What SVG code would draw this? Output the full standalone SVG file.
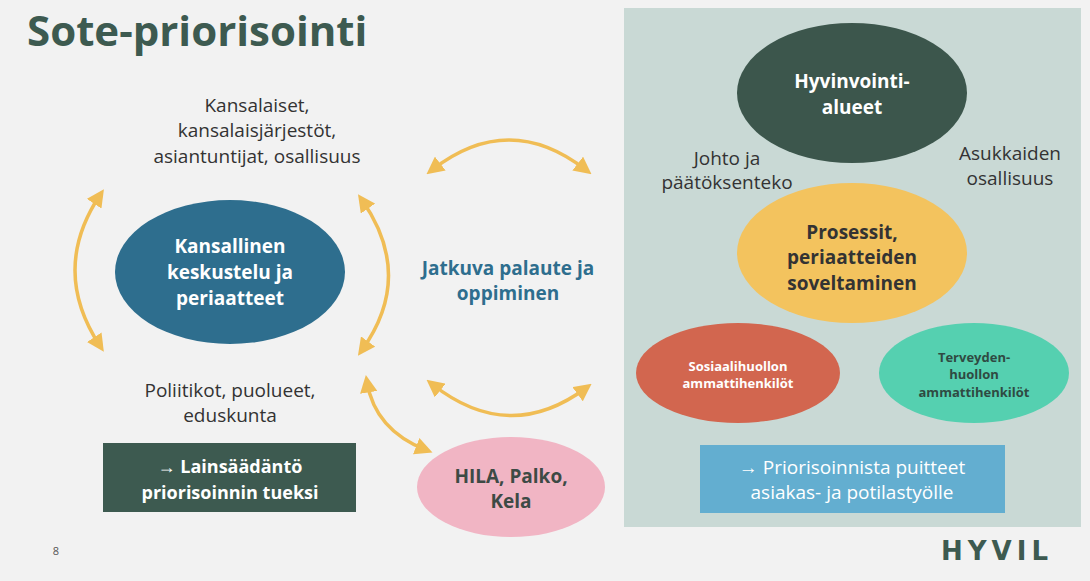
<svg xmlns="http://www.w3.org/2000/svg" width="1090" height="581" viewBox="0 0 1090 581">
<defs>
<marker id="ah" viewBox="0 0 10 10" refX="6" refY="5" markerWidth="5" markerHeight="5" orient="auto-start-reverse"><path d="M0,0 L10,5 L0,10 z" fill="#f0bd55"/></marker>
<style>
text{font-family:"Open Sans","Liberation Sans",sans-serif;text-anchor:middle}
.t{font-size:19px;fill:#333}
.b{font-weight:bold}
.arc{fill:none;stroke:#f0bd55;stroke-width:3.5;marker-start:url(#ah);marker-end:url(#ah)}
</style>
</defs>
<rect width="1090" height="581" fill="#f2f2f2"/>
<rect x="624" y="8" width="457" height="519" fill="#c9d9d5"/>
<text x="27" y="46" style="text-anchor:start;font-size:42px;font-weight:bold;fill:#3d5a50">Sote-priorisointi</text>
<text class="t" x="257" y="112">Kansalaiset,</text>
<text class="t" x="257" y="137">kansalaisjärjestöt,</text>
<text class="t" x="257" y="163">asiantuntijat, osallisuus</text>
<g id="connectors">
<path class="arc" d="M100,195 Q50,270 100,346"/>
<path class="arc" d="M362,200 Q415,276 362,350"/>
<path class="arc" d="M432,170 Q509,110 586,170"/>
<path class="arc" d="M432,384 Q509,445 586,388"/>
<path class="arc" d="M367,382 Q375,430 426,450"/>
</g>
<g id="kansallinen"><ellipse cx="230" cy="272" rx="115" ry="72" fill="#2e6e8e"/>
<text class="t b" x="230" y="253" fill="#fff" style="fill:#fff">Kansallinen</text>
<text class="t b" x="230" y="279" style="fill:#fff">keskustelu ja</text>
<text class="t b" x="230" y="305" style="fill:#fff">periaatteet</text></g>
<g id="jatkuva"><text class="t b" x="508" y="275" style="fill:#2e6e8e">Jatkuva palaute ja</text>
<text class="t b" x="508" y="300" style="fill:#2e6e8e">oppiminen</text></g>
<text class="t" x="230" y="397">Poliitikot, puolueet,</text>
<text class="t" x="230" y="422">eduskunta</text>
<g id="laki"><rect x="103" y="443" width="253" height="69" fill="#3d5a50"/>
<text class="t b" x="230" y="473" style="fill:#fff;font-size:18px">→ Lainsäädäntö</text>
<text class="t b" x="230" y="499" style="fill:#fff;font-size:18px">priorisoinnin tueksi</text></g>
<g id="hila"><ellipse cx="511" cy="487" rx="94" ry="50" fill="#f1b5c4"/>
<text class="t b" x="511" y="483" style="fill:#3d4a45">HILA, Palko,</text>
<text class="t b" x="511" y="508" style="fill:#3d4a45">Kela</text></g>
<g id="hyvinvointi"><ellipse cx="852" cy="93" rx="115" ry="70" fill="#3c564c"/>
<text class="t b" x="852" y="88" style="fill:#fff">Hyvinvointi-</text>
<text class="t b" x="852" y="114" style="fill:#fff">alueet</text></g>
<text class="t" x="727" y="165">Johto ja</text>
<text class="t" x="727" y="189">päätöksenteko</text>
<text class="t" x="1010" y="160">Asukkaiden</text>
<text class="t" x="1010" y="185">osallisuus</text>
<g id="prosessit"><ellipse cx="852" cy="253" rx="115" ry="70" fill="#f3c35e"/>
<text class="t b" x="852" y="239" style="fill:#333">Prosessit,</text>
<text class="t b" x="852" y="264" style="fill:#333">periaatteiden</text>
<text class="t b" x="852" y="290" style="fill:#333">soveltaminen</text></g>
<g id="sosiaali"><ellipse cx="738" cy="373" rx="102" ry="50" fill="#d2664f"/>
<text class="b" x="738" y="371" style="fill:#fff;font-size:13px">Sosiaalihuollon</text>
<text class="b" x="738" y="388" style="fill:#fff;font-size:13px">ammattihenkilöt</text></g>
<g id="terveys"><ellipse cx="974" cy="373" rx="95" ry="50" fill="#55d0b0"/>
<text class="b" x="974" y="362" style="fill:#2f4a42;font-size:13px">Terveyden-</text>
<text class="b" x="974" y="379" style="fill:#2f4a42;font-size:13px">huollon</text>
<text class="b" x="974" y="397" style="fill:#2f4a42;font-size:13px">ammattihenkilöt</text></g>
<g id="puitteet"><rect x="700" y="445" width="305" height="68" fill="#63aed0"/>
<text class="t" x="852" y="474" style="fill:#fff">→ Priorisoinnista puitteet</text>
<text class="t" x="852" y="499" style="fill:#fff">asiakas- ja potilastyölle</text></g>
<text x="56" y="555" style="font-size:11px;fill:#555">8</text>
<text x="997" y="560" style="font-family:'DejaVu Sans',sans-serif;font-size:26px;font-weight:bold;fill:#3d5a50;letter-spacing:5px">HYVIL</text>
</svg>
